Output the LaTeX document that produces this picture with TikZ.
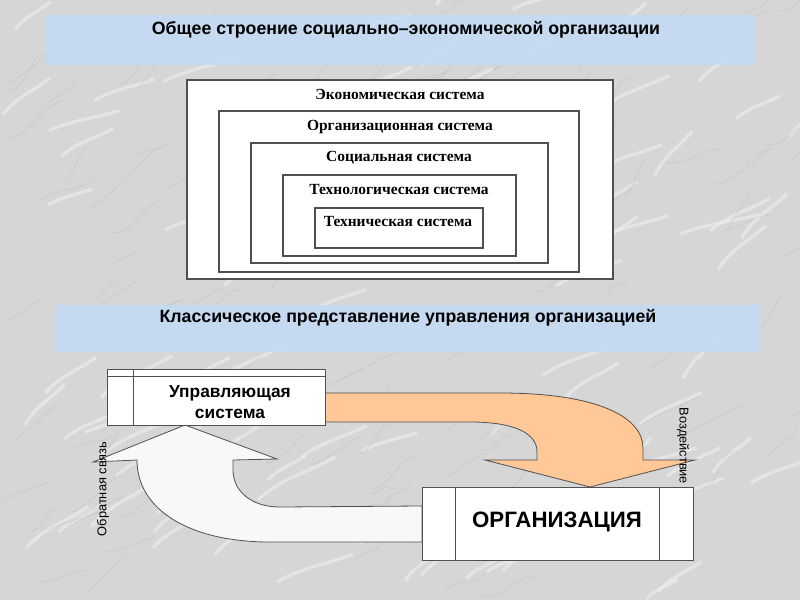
\documentclass[tikz,border=0pt]{standalone}
\usepackage{fontspec}
\setmainfont{Liberation Serif}
\newfontfamily\sansf{Liberation Sans}
\newfontfamily\serff{Liberation Serif}
\usetikzlibrary{fit}
\definecolor{marble}{RGB}{214,214,214}
\definecolor{vein}{RGB}{178,178,178}
\definecolor{veinlight}{RGB}{238,238,238}
\definecolor{band}{RGB}{196,219,243}
\definecolor{peach}{RGB}{255,200,150}
\definecolor{edge}{RGB}{80,80,80}
\definecolor{offwhite}{RGB}{248,248,248}
\tikzset{
  px/.style={x=0.75pt,y=-0.75pt},
  bandbox/.style={fill=band,fill opacity=0.9,draw=none,inner sep=0pt},
  sysbox/.style={draw=edge,line width=0.8pt,fill=white,inner sep=0pt},
  clearbox/.style={draw=edge,line width=0.8pt,inner sep=0pt},
  syslabel/.style={font=\serff\bfseries\fontsize{11.6}{13}\selectfont,inner sep=0pt},
  titlelabel/.style={font=\sansf\bfseries\fontsize{13.3}{15}\selectfont,inner sep=0pt},
  mainbox/.style={draw=edge,line width=0.7pt,fill=white,inner sep=0pt},
  arrowshape/.style={draw=edge,line width=0.6pt},
  sidelabel/.style={font=\sansf\fontsize{9.6}{11}\selectfont,inner sep=0pt}
}
\begin{document}
\begin{tikzpicture}[px]
\fill[marble] (0,0) rectangle (800,600);
\useasboundingbox (0,0) rectangle (800,600);
% marble veins
\pgfmathsetseed{7}
\foreach \i in {1,...,90}{
  \pgfmathsetmacro{\xa}{rnd*800}
  \pgfmathsetmacro{\ya}{rnd*600}
  \pgfmathsetmacro{\dx}{30+rnd*50}
  \pgfmathsetmacro{\dy}{-15-rnd*30}
  \draw[veinlight,line width=2.5pt,opacity=0.6] (\xa,\ya) .. controls (\xa+\dx*0.3,\ya+\dy*0.5) and (\xa+\dx*0.6,\ya+\dy*0.6) .. (\xa+\dx,\ya+\dy);
}
\foreach \i in {1,...,140}{
  \pgfmathsetmacro{\xa}{rnd*800}
  \pgfmathsetmacro{\ya}{rnd*600}
  \pgfmathsetmacro{\dx}{20+rnd*40}
  \pgfmathsetmacro{\dy}{-10-rnd*30}
  \pgfmathsetmacro{\bend}{(rnd-0.5)*30}
  \draw[vein,line width=0.3pt,opacity=0.5] (\xa,\ya) .. controls (\xa+\dx*0.4,\ya+\dy*0.3+\bend) and (\xa+\dx*0.7,\ya+\dy*0.8-\bend) .. (\xa+\dx,\ya+\dy);
}
% bands
\node[bandbox,fit={(45,15) (755,65)}] (band1) {};
\node[titlelabel] (title1) at (406,30) {Общее строение социально–экономической организации};
\node[bandbox,fit={(55,305) (760,352)}] (band2) {};
\node[titlelabel] (title2) at (408,318) {Классическое представление управления организацией};
% nested systems
\node[sysbox,fit={(187,80) (613,279)}] (econ) {};
\node[sysbox,fit={(219,111) (579,272)}] (org) {};
\node[clearbox,fit={(251,143) (548,263)}] (soc) {};
\node[sysbox,fit={(283,175) (516,256)}] (tech) {};
\node[sysbox,fit={(315,208) (483,248)}] (techn) {};
\node[syslabel] (leco) at (400,94) {Экономическая система};
\node[syslabel] (lorg) at (400,127) {Организационная система};
\node[syslabel] (lsoc) at (399,158) {Социальная система};
\node[syslabel] (ltech) at (399,190) {Технологическая система};
\node[syslabel] (ltechn) at (398,222) {Техническая система};
% arrows
\fill[peach,arrowshape] (325,393) -- (500,393) .. controls (600,393) and (643,418) .. (643,448) -- (643,460) -- (695,460) -- (590,487) -- (485,460) -- (537,460) -- (537,452) .. controls (537,432) and (512,422) .. (470,422) -- (325,422) -- cycle;
\fill[offwhite,arrowshape] (422,506) -- (280,507) .. controls (250,507) and (233,490) .. (233,470) -- (233,460) -- (277,459) -- (185,425) -- (93,462) -- (137,460) .. controls (137,510) and (190,542) .. (270,542) -- (422,542) -- cycle;
% control system box
\node[mainbox,fit={(107,369) (325,425)}] (ctrl) {};
\coordinate (ctrlA) at (133,369);
\coordinate (ctrlB) at (133,425);
\coordinate (ctrlC) at (107,376);
\coordinate (ctrlD) at (325,376);
\draw[edge,line width=0.6pt] (ctrlA) -- (ctrlB);
\draw[edge,line width=0.6pt] (ctrlC) -- (ctrlD);
\node[font=\sansf\bfseries\fontsize{13}{16}\selectfont,align=center,inner sep=0pt] (ctrltext) at (230,402) {Управляющая\\система};
% organisation box
\node[mainbox,fit={(422,487) (693,560)}] (orga) {};
\coordinate (orgA) at (455,487);
\coordinate (orgB) at (455,560);
\coordinate (orgC) at (659,487);
\coordinate (orgD) at (659,560);
\draw[edge,line width=0.6pt] (orgA) -- (orgB);
\draw[edge,line width=0.6pt] (orgC) -- (orgD);
\node[font=\sansf\bfseries\fontsize{16.7}{19}\selectfont,inner sep=0pt] (orgtext) at (557,522) {ОРГАНИЗАЦИЯ};
% side labels
\node[sidelabel,rotate=90] (fb) at (103,489) {Обратная связь};
\node[sidelabel,rotate=-90] (act) at (683,446) {Воздействие};
\end{tikzpicture}
\end{document}
